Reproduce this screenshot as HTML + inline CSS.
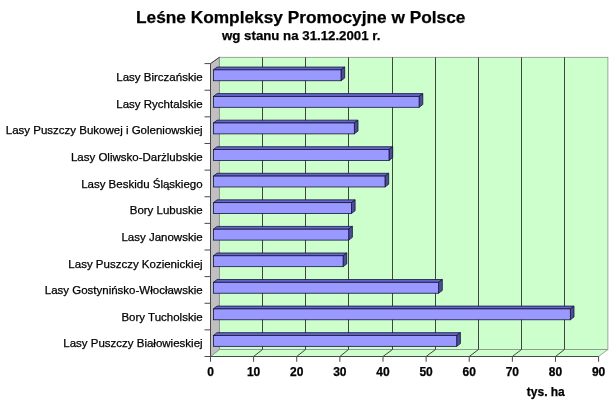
<!DOCTYPE html>
<html lang="pl"><head><meta charset="utf-8"><title>Leśne Kompleksy Promocyjne w Polsce</title>
<style>html,body{margin:0;padding:0;background:#fff;overflow:hidden}body{width:615px;height:408px;position:relative}</style></head>
<body>
<svg width="615" height="408" viewBox="0 0 615 408" style="position:absolute;left:0;top:0">
<rect x="219.4" y="57.3" width="388.50" height="292.20" fill="#ccffcc" stroke="#8c8c8c" stroke-width="0.8"/>
<polygon points="210.5,356.5 219.4,349.5 607.90,349.5 598.60,356.5" fill="#ccffcc" stroke="#8c8c8c" stroke-width="0.8"/>
<polygon points="210.5,63.6 219.4,57.3 219.4,349.5 210.5,356.5" fill="#c0c0c0" stroke="#8c8c8c" stroke-width="0.8"/>
<line x1="210.5" y1="63.6" x2="219.4" y2="57.3" stroke="#444" stroke-width="1"/>
<polyline points="262.50,57.3 262.50,349.5 253.62,356.5" fill="none" stroke="#303030" stroke-width="0.9"/>
<polyline points="305.50,57.3 305.50,349.5 296.74,356.5" fill="none" stroke="#303030" stroke-width="0.9"/>
<polyline points="348.50,57.3 348.50,349.5 339.87,356.5" fill="none" stroke="#303030" stroke-width="0.9"/>
<polyline points="392.50,57.3 392.50,349.5 382.99,356.5" fill="none" stroke="#303030" stroke-width="0.9"/>
<polyline points="435.50,57.3 435.50,349.5 426.11,356.5" fill="none" stroke="#303030" stroke-width="0.9"/>
<polyline points="478.50,57.3 478.50,349.5 469.23,356.5" fill="none" stroke="#303030" stroke-width="0.9"/>
<polyline points="521.50,57.3 521.50,349.5 512.36,356.5" fill="none" stroke="#303030" stroke-width="0.9"/>
<polyline points="564.50,57.3 564.50,349.5 555.48,356.5" fill="none" stroke="#303030" stroke-width="0.9"/>
<line x1="210.5" y1="63.6" x2="210.5" y2="356.5" stroke="#484848" stroke-width="1"/>
<line x1="204.5" y1="356.5" x2="598.60" y2="356.5" stroke="#484848" stroke-width="1"/>
<line x1="210.50" y1="356.5" x2="210.50" y2="361.8" stroke="#484848" stroke-width="1"/>
<line x1="253.62" y1="356.5" x2="253.62" y2="361.8" stroke="#484848" stroke-width="1"/>
<line x1="296.74" y1="356.5" x2="296.74" y2="361.8" stroke="#484848" stroke-width="1"/>
<line x1="339.87" y1="356.5" x2="339.87" y2="361.8" stroke="#484848" stroke-width="1"/>
<line x1="382.99" y1="356.5" x2="382.99" y2="361.8" stroke="#484848" stroke-width="1"/>
<line x1="426.11" y1="356.5" x2="426.11" y2="361.8" stroke="#484848" stroke-width="1"/>
<line x1="469.23" y1="356.5" x2="469.23" y2="361.8" stroke="#484848" stroke-width="1"/>
<line x1="512.36" y1="356.5" x2="512.36" y2="361.8" stroke="#484848" stroke-width="1"/>
<line x1="555.48" y1="356.5" x2="555.48" y2="361.8" stroke="#484848" stroke-width="1"/>
<line x1="598.60" y1="356.5" x2="598.60" y2="361.8" stroke="#484848" stroke-width="1"/>
<line x1="204.5" y1="63.60" x2="210.5" y2="63.60" stroke="#484848" stroke-width="1"/>
<line x1="204.5" y1="90.23" x2="210.5" y2="90.23" stroke="#484848" stroke-width="1"/>
<line x1="204.5" y1="116.85" x2="210.5" y2="116.85" stroke="#484848" stroke-width="1"/>
<line x1="204.5" y1="143.48" x2="210.5" y2="143.48" stroke="#484848" stroke-width="1"/>
<line x1="204.5" y1="170.11" x2="210.5" y2="170.11" stroke="#484848" stroke-width="1"/>
<line x1="204.5" y1="196.74" x2="210.5" y2="196.74" stroke="#484848" stroke-width="1"/>
<line x1="204.5" y1="223.36" x2="210.5" y2="223.36" stroke="#484848" stroke-width="1"/>
<line x1="204.5" y1="249.99" x2="210.5" y2="249.99" stroke="#484848" stroke-width="1"/>
<line x1="204.5" y1="276.62" x2="210.5" y2="276.62" stroke="#484848" stroke-width="1"/>
<line x1="204.5" y1="303.25" x2="210.5" y2="303.25" stroke="#484848" stroke-width="1"/>
<line x1="204.5" y1="329.87" x2="210.5" y2="329.87" stroke="#484848" stroke-width="1"/>
<polygon points="213.4,69.85 217.1,67.05 344.7,67.05 341,69.85" fill="#6666cc" stroke="#15153a" stroke-width="0.8" stroke-linejoin="round"/>
<polygon points="341,69.85 344.7,67.05 344.7,77.95 341,80.75" fill="#4d4d99" stroke="#15153a" stroke-width="0.8" stroke-linejoin="round"/>
<rect x="213.4" y="69.85" width="127.60" height="10.90" fill="#9999ff" stroke="#15153a" stroke-width="0.8"/>
<polygon points="213.4,96.41 217.1,93.61 422.8,93.61 419.1,96.41" fill="#6666cc" stroke="#15153a" stroke-width="0.8" stroke-linejoin="round"/>
<polygon points="419.1,96.41 422.8,93.61 422.8,104.51 419.1,107.31" fill="#4d4d99" stroke="#15153a" stroke-width="0.8" stroke-linejoin="round"/>
<rect x="213.4" y="96.41" width="205.70" height="10.90" fill="#9999ff" stroke="#15153a" stroke-width="0.8"/>
<polygon points="213.4,122.97 217.1,120.17 358.0,120.17 354.3,122.97" fill="#6666cc" stroke="#15153a" stroke-width="0.8" stroke-linejoin="round"/>
<polygon points="354.3,122.97 358.0,120.17 358.0,131.07 354.3,133.87" fill="#4d4d99" stroke="#15153a" stroke-width="0.8" stroke-linejoin="round"/>
<rect x="213.4" y="122.97" width="140.90" height="10.90" fill="#9999ff" stroke="#15153a" stroke-width="0.8"/>
<polygon points="213.4,149.53 217.1,146.73 392.7,146.73 389,149.53" fill="#6666cc" stroke="#15153a" stroke-width="0.8" stroke-linejoin="round"/>
<polygon points="389,149.53 392.7,146.73 392.7,157.63 389,160.43" fill="#4d4d99" stroke="#15153a" stroke-width="0.8" stroke-linejoin="round"/>
<rect x="213.4" y="149.53" width="175.60" height="10.90" fill="#9999ff" stroke="#15153a" stroke-width="0.8"/>
<polygon points="213.4,176.09 217.1,173.29 388.7,173.29 385.0,176.09" fill="#6666cc" stroke="#15153a" stroke-width="0.8" stroke-linejoin="round"/>
<polygon points="385.0,176.09 388.7,173.29 388.7,184.19 385.0,186.99" fill="#4d4d99" stroke="#15153a" stroke-width="0.8" stroke-linejoin="round"/>
<rect x="213.4" y="176.09" width="171.60" height="10.90" fill="#9999ff" stroke="#15153a" stroke-width="0.8"/>
<polygon points="213.4,202.65 217.1,199.85 355.09999999999997,199.85 351.4,202.65" fill="#6666cc" stroke="#15153a" stroke-width="0.8" stroke-linejoin="round"/>
<polygon points="351.4,202.65 355.09999999999997,199.85 355.09999999999997,210.75 351.4,213.55" fill="#4d4d99" stroke="#15153a" stroke-width="0.8" stroke-linejoin="round"/>
<rect x="213.4" y="202.65" width="138.00" height="10.90" fill="#9999ff" stroke="#15153a" stroke-width="0.8"/>
<polygon points="213.4,229.21 217.1,226.41 352.4,226.41 348.7,229.21" fill="#6666cc" stroke="#15153a" stroke-width="0.8" stroke-linejoin="round"/>
<polygon points="348.7,229.21 352.4,226.41 352.4,237.31 348.7,240.11" fill="#4d4d99" stroke="#15153a" stroke-width="0.8" stroke-linejoin="round"/>
<rect x="213.4" y="229.21" width="135.30" height="10.90" fill="#9999ff" stroke="#15153a" stroke-width="0.8"/>
<polygon points="213.4,255.77 217.1,252.97 346.8,252.97 343.1,255.77" fill="#6666cc" stroke="#15153a" stroke-width="0.8" stroke-linejoin="round"/>
<polygon points="343.1,255.77 346.8,252.97 346.8,263.87 343.1,266.67" fill="#4d4d99" stroke="#15153a" stroke-width="0.8" stroke-linejoin="round"/>
<rect x="213.4" y="255.77" width="129.70" height="10.90" fill="#9999ff" stroke="#15153a" stroke-width="0.8"/>
<polygon points="213.4,282.33 217.1,279.53 442.3,279.53 438.6,282.33" fill="#6666cc" stroke="#15153a" stroke-width="0.8" stroke-linejoin="round"/>
<polygon points="438.6,282.33 442.3,279.53 442.3,290.43 438.6,293.23" fill="#4d4d99" stroke="#15153a" stroke-width="0.8" stroke-linejoin="round"/>
<rect x="213.4" y="282.33" width="225.20" height="10.90" fill="#9999ff" stroke="#15153a" stroke-width="0.8"/>
<polygon points="213.4,308.89 217.1,306.09 574.0,306.09 570.3,308.89" fill="#6666cc" stroke="#15153a" stroke-width="0.8" stroke-linejoin="round"/>
<polygon points="570.3,308.89 574.0,306.09 574.0,316.99 570.3,319.79" fill="#4d4d99" stroke="#15153a" stroke-width="0.8" stroke-linejoin="round"/>
<rect x="213.4" y="308.89" width="356.90" height="10.90" fill="#9999ff" stroke="#15153a" stroke-width="0.8"/>
<polygon points="213.4,335.45 217.1,332.65 460.4,332.65 456.7,335.45" fill="#6666cc" stroke="#15153a" stroke-width="0.8" stroke-linejoin="round"/>
<polygon points="456.7,335.45 460.4,332.65 460.4,343.55 456.7,346.35" fill="#4d4d99" stroke="#15153a" stroke-width="0.8" stroke-linejoin="round"/>
<rect x="213.4" y="335.45" width="243.30" height="10.90" fill="#9999ff" stroke="#15153a" stroke-width="0.8"/>
<g font-family="'Liberation Sans', Arial, sans-serif" fill="#000" stroke="#000" stroke-width="0.25">
<text x="300.7" y="22.5" font-size="17.3" font-weight="bold" text-anchor="middle">Leśne Kompleksy Promocyjne w Polsce</text>
<text x="301.2" y="39.5" font-size="13.25" font-weight="bold" text-anchor="middle">wg stanu na 31.12.2001 r.</text>
<text x="202.6" y="81.21" font-size="11.5" text-anchor="end">Lasy Birczańskie</text>
<text x="202.6" y="107.84" font-size="11.5" text-anchor="end">Lasy Rychtalskie</text>
<text x="202.6" y="134.47" font-size="11.5" text-anchor="end">Lasy Puszczy Bukowej i Goleniowskiej</text>
<text x="202.6" y="161.10" font-size="11.5" text-anchor="end">Lasy Oliwsko-Darżlubskie</text>
<text x="202.6" y="187.72" font-size="11.5" text-anchor="end">Lasy Beskidu Śląskiego</text>
<text x="202.6" y="214.35" font-size="11.5" text-anchor="end">Bory Lubuskie</text>
<text x="202.6" y="240.98" font-size="11.5" text-anchor="end">Lasy Janowskie</text>
<text x="202.6" y="267.60" font-size="11.5" text-anchor="end">Lasy Puszczy Kozienickiej</text>
<text x="202.6" y="294.23" font-size="11.5" text-anchor="end">Lasy Gostynińsko-Włocławskie</text>
<text x="202.6" y="320.86" font-size="11.5" text-anchor="end">Bory Tucholskie</text>
<text x="202.6" y="347.49" font-size="11.5" text-anchor="end">Lasy Puszczy Białowieskiej</text>
<text x="210.50" y="376.4" font-size="12" font-weight="bold" text-anchor="middle">0</text>
<text x="253.62" y="376.4" font-size="12" font-weight="bold" text-anchor="middle">10</text>
<text x="296.74" y="376.4" font-size="12" font-weight="bold" text-anchor="middle">20</text>
<text x="339.87" y="376.4" font-size="12" font-weight="bold" text-anchor="middle">30</text>
<text x="382.99" y="376.4" font-size="12" font-weight="bold" text-anchor="middle">40</text>
<text x="426.11" y="376.4" font-size="12" font-weight="bold" text-anchor="middle">50</text>
<text x="469.23" y="376.4" font-size="12" font-weight="bold" text-anchor="middle">60</text>
<text x="512.36" y="376.4" font-size="12" font-weight="bold" text-anchor="middle">70</text>
<text x="555.48" y="376.4" font-size="12" font-weight="bold" text-anchor="middle">80</text>
<text x="598.60" y="376.4" font-size="12" font-weight="bold" text-anchor="middle">90</text>
<text x="545.8" y="396" font-size="12" font-weight="bold" text-anchor="middle">tys. ha</text>
</g>
</svg>
</body></html>
